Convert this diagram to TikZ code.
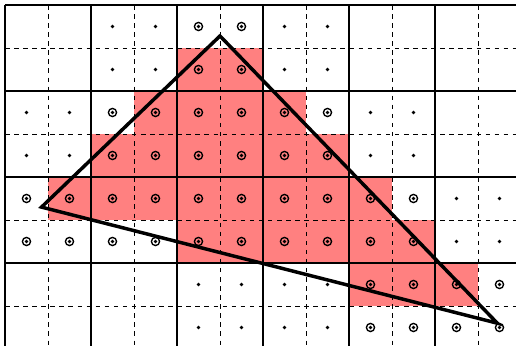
\documentclass[tikz,border=0pt]{standalone}
\definecolor{cover}{RGB}{255,128,128}

\begin{document}
\begin{tikzpicture}[
    y=-1cm,
    covered/.style={fill=cover},
    fineline/.style={dashed, line width=0.5pt},
    coarseline/.style={line width=0.9pt},
    ring/.style={draw, line width=0.9pt},
    edge/.style={line width=2.3pt, line join=miter},
]

\useasboundingbox (-0.116,-0.116) rectangle (11.884,7.93);
\clip (-0.116,-0.116) rectangle (11.884,7.93);

% Covered cells (row / first col / last col)
\foreach \r/\a/\b in {1/4/5, 2/3/6, 3/2/7, 4/1/8, 5/4/9, 6/8/10}
  \fill[covered] (\a,\r) rectangle (\b+1,\r+1);

% Fine grid
\foreach \i in {1,3,...,11} \draw[fineline] (\i,0) -- (\i,8);
\foreach \j in {1,3,5,7} \draw[fineline] (0,\j) -- (12,\j);

% Coarse grid
\foreach \i in {0,2,...,12} \draw[coarseline] (\i,0) -- (\i,8);
\foreach \j in {0,2,...,8} \draw[coarseline] (0,\j) -- (12,\j);

% Plain samples
\foreach \r/\cols in {0/{2,3,6,7}, 1/{2,3,6,7}, 2/{0,1,8,9}, 3/{0,1,8,9},
                      4/{10,11}, 5/{10,11}, 6/{4,5,6,7}, 7/{4,5,6,7}}
  \foreach \c in \cols
    \fill (\c+0.5,\r+0.5) circle (0.045);

% Tested samples
\foreach \r/\cols in {0/{4,5}, 1/{4,5}, 2/{2,...,7}, 3/{2,...,7},
                      4/{0,...,9}, 5/{0,...,9}, 6/{8,...,11}, 7/{8,...,11}}
  \foreach \c in \cols {
    \draw[ring] (\c+0.5,\r+0.5) circle (0.095);
    \fill (\c+0.5,\r+0.5) circle (0.042);
  }

% Triangle
\coordinate (apex) at (5,0.72);
\coordinate (west) at (0.85,4.7);
\coordinate (east) at (11.45,7.4);
\draw[edge] (apex) -- (west) -- (east) -- cycle;

\end{tikzpicture}
\end{document}
